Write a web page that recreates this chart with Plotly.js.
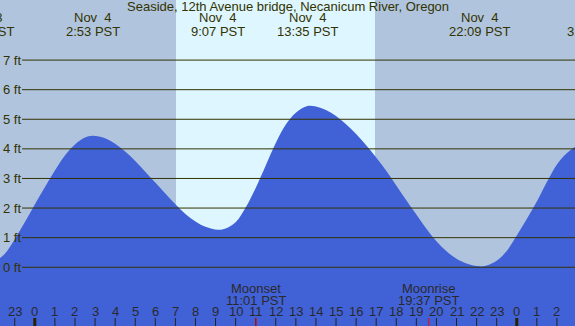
<!DOCTYPE html>
<html><head><meta charset="utf-8">
<script src="https://cdn.plot.ly/plotly-3.0.1.min.js"></script>
<style>html,body{margin:0;padding:0;background:#b0c4de;overflow:hidden}</style>
</head><body><div id="chart" style="width:575px;height:326px"></div>
<script>
// Tide height (ft) vs hours from Nov 4 00:00 PST
const tideHours = [-2.0,-1.5,-1.0,-0.5,0.0,0.5,1.0,1.5,2.0,2.5,2.88,3.5,4.0,4.5,5.0,5.5,6.0,6.5,7.0,7.5,8.0,8.5,9.12,9.5,10.0,10.5,11.0,11.5,12.0,12.5,13.0,13.58,14.0,14.5,15.0,15.5,16.0,16.5,17.0,17.5,18.0,18.5,19.0,19.5,20.0,20.5,21.0,21.5,22.15,22.5,23.0,23.5,24.0,24.5,25.0,25.5,26.0,26.5,27.0,27.5];
const tideFeet  = [0.18,0.45,0.95,1.52,2.12,2.70,3.27,3.78,4.15,4.38,4.44,4.36,4.17,3.91,3.59,3.23,2.86,2.49,2.13,1.80,1.55,1.37,1.27,1.31,1.52,2.02,2.68,3.44,4.20,4.82,5.22,5.45,5.43,5.31,5.11,4.83,4.50,4.12,3.71,3.26,2.76,2.26,1.78,1.30,0.88,0.54,0.29,0.13,0.03,0.06,0.22,0.55,1.07,1.63,2.22,2.88,3.47,3.86,4.10,4.25];

// High / low tide labels
const tideEventHours = [-2.533, 2.883, 9.117, 13.583, 22.15, 27.85];
const tideEventDates = ['Nov  3','Nov  4','Nov  4','Nov  4','Nov  4','Nov  5'];
const tideEventTimes = ['21:28 PST','2:53 PST','9:07 PST','13:35 PST','22:09 PST','3:51 PST'];

// Daylight
const sunriseHour = 7.03;
const sunsetHour = 16.94;

// Moon events
const moonHours = [11.017, 19.617];
const moonNames = ['Moonset','Moonrise'];
const moonTimes = ['11:01 PST','19:37 PST'];

// Hour ticks
const hourTicks = [-1,0,1,2,3,4,5,6,7,8,9,10,11,12,13,14,15,16,17,18,19,20,21,22,23,24,25,26];
const hourLabels = ['23','0','1','2','3','4','5','6','7','8','9','10','11','12','13','14','15','16','17','18','19','20','21','22','23','0','1','2'];
const midnightTicks = [0, 24];

// Height grid
const feetTicks = [0,1,2,3,4,5,6,7];
const feetLabels = ['0 ft','1 ft','2 ft','3 ft','4 ft','5 ft','6 ft','7 ft'];

const title = 'Seaside, 12th Avenue bridge, Necanicum River, Oregon';

const xRange = [-1.733, 26.9];
const yRange = [-1.985, 9.03];
const W = 575, H = 326;
const FONT = 'Liberation Sans, Arial, sans-serif';
const TXT = '#333300';
const LBL = '#2a2a2a';
const py = px => 1 - px / H;
const pxX = h => (h - xRange[0]) / (xRange[1] - xRange[0]);

const traces = [
  {x: [xRange[0]-1, xRange[1]+1], y: [yRange[0]-1, yRange[0]-1], mode: 'lines', line: {width: 0}, hoverinfo: 'skip', showlegend: false},
  {x: tideHours, y: tideFeet, mode: 'lines', line: {width: 0, shape: 'spline', smoothing: 1, color: '#4161d7'}, fill: 'tonexty', fillcolor: '#4161d7', hoverinfo: 'skip', showlegend: false}
];

const shapes = [];
shapes.push({type: 'rect', layer: 'below', xref: 'x', yref: 'paper', x0: sunriseHour, x1: sunsetHour, y0: 0, y1: 1, fillcolor: '#ddf6ff', line: {width: 0}});
feetTicks.forEach(v => shapes.push({type: 'line', layer: 'above', xref: 'paper', yref: 'y', x0: 22/W, x1: 1, y0: v, y1: v, line: {color: '#333300', width: 1}}));
hourTicks.forEach(h => {
  const mid = midnightTicks.includes(h);
  shapes.push({type: 'line', xref: 'x', yref: 'paper', x0: h, x1: h, y0: 0, y1: 8/H, line: {color: mid ? '#2a2200' : '#222222', width: mid ? 3 : 1}});
});
moonHours.forEach(h => shapes.push({type: 'line', xref: 'x', yref: 'paper', x0: h, x1: h, y0: 0, y1: 8/H, line: {color: '#ff0000', width: 1}}));

const annotations = [];
const ann = (o) => Object.assign({showarrow: false, xanchor: 'center', yanchor: 'middle', font: {family: FONT, size: 13, color: TXT}}, o);
annotations.push(ann({xref: 'paper', yref: 'paper', x: 0.5, y: py(7), text: title}));
tideEventHours.forEach((h, i) => {
  annotations.push(ann({xref: 'paper', yref: 'paper', x: pxX(h), y: py(17), text: tideEventDates[i].replace(/ /g, '\u00a0')}));
  annotations.push(ann({xref: 'paper', yref: 'paper', x: pxX(h), y: py(31), text: tideEventTimes[i]}));
});
moonHours.forEach((h, i) => {
  annotations.push(ann({xref: 'x', yref: 'paper', x: h, y: py(288), text: moonNames[i], font: {family: FONT, size: 13, color: LBL}}));
  annotations.push(ann({xref: 'x', yref: 'paper', x: h, y: py(300), text: moonTimes[i], font: {family: FONT, size: 13, color: LBL}}));
});
hourTicks.forEach((h, i) => annotations.push(ann({xref: 'x', yref: 'paper', x: h, y: py(311.5), text: hourLabels[i], font: {family: FONT, size: 13, color: LBL}})));
feetTicks.forEach((v, i) => annotations.push(ann({xref: 'paper', yref: 'y', x: 0, xanchor: 'left', xshift: 1, y: v, text: feetLabels[i]})));

const layout = {
  width: W, height: H,
  margin: {l: 0, r: 0, t: 0, b: 0, pad: 0},
  paper_bgcolor: '#b0c4de', plot_bgcolor: '#b0c4de',
  xaxis: {range: xRange, showgrid: false, zeroline: false, showticklabels: false, ticks: '', showline: false, fixedrange: true},
  yaxis: {range: yRange, showgrid: false, zeroline: false, showticklabels: false, ticks: '', showline: false, fixedrange: true},
  shapes: shapes, annotations: annotations, showlegend: false
};
Plotly.newPlot('chart', traces, layout, {staticPlot: true, displayModeBar: false});
</script></body></html>
